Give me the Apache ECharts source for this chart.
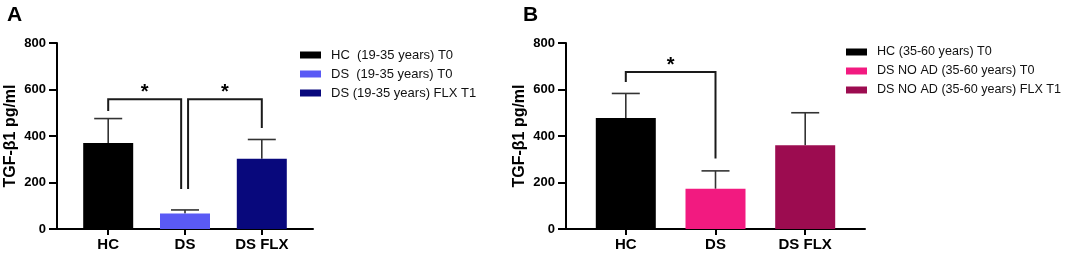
<!DOCTYPE html>
<html>
<head>
<meta charset="utf-8">
<script src="https://cdn.jsdelivr.net/npm/echarts@6/dist/echarts.min.js"></script>
<style>
  html, body { margin: 0; padding: 0; background: #fff; }
  #chart { width: 1065px; height: 254px; }
</style>
</head>
<body>
<div id="chart"></div>
<script>
// x categories (same for both panels)
const categories = ["HC", "DS", "DS FLX"];
const yTicks = [0, 200, 400, 600, 800];

// panel A
const namesA = ["HC  (19-35 years) T0", "DS  (19-35 years) T0", "DS (19-35 years) FLX T1"];
const meansA = [370, 67, 302];
const upperA = [475, 82, 385];
// [x from, x to, top, left end, right end]
const bracketsA = [
  [0, 0.95, 558, 507, 172],
  [1.04, 2, 558, 172, 434]
];

// panel B
const namesB = ["HC (35-60 years) T0", "DS NO AD (35-60 years) T0", "DS NO AD (35-60 years) FLX T1"];
const meansB = [477, 173, 360];
const upperB = [583, 250, 500];
const bracketsB = [
  [0, 1, 675, 632, 303]
];

const colorsA = ["#000000", "#5a5af5", "#08087c"];
const colorsB = ["#000000", "#f21a80", "#9c0c50"];
const FONT = "Arial, 'Liberation Sans', sans-serif";

function xAxis(idx) {
  return {
    type: "value",
    gridIndex: idx,
    min: -2 / 3,
    max: 8 / 3,
    splitLine: { show: false },
    axisLine: { show: true, lineStyle: { color: "#000", width: 2 } },
    axisTick: { show: true, customValues: [0, 1, 2], length: 6, lineStyle: { color: "#000", width: 2 } },
    axisLabel: {
      customValues: [0, 1, 2],
      formatter: v => categories[Math.round(v)],
      color: "#000", fontWeight: "bold", fontSize: 15, fontFamily: FONT, margin: 8
    }
  };
}

function yAxis(idx) {
  return {
    type: "value",
    gridIndex: idx,
    min: yTicks[0],
    max: yTicks[yTicks.length - 1],
    interval: 200,
    name: "TGF-β1 pg/ml",
    nameLocation: "middle",
    nameGap: 38,
    nameTextStyle: { color: "#000", fontWeight: "bold", fontSize: 16, fontFamily: FONT },
    splitLine: { show: false },
    axisLine: { show: true, onZero: false, lineStyle: { color: "#000", width: 2 } },
    axisTick: { show: true, length: 8, lineStyle: { color: "#000", width: 2 } },
    axisLabel: { color: "#000", fontWeight: "bold", fontSize: 13, fontFamily: FONT, margin: 11 }
  };
}

function barSeries(idx, names, means, colors, width) {
  return names.map((n, i) => ({
    name: n,
    type: "bar",
    xAxisIndex: idx,
    yAxisIndex: idx,
    barWidth: width,
    barGap: "-100%",
    itemStyle: { color: colors[i] },
    data: [[i, means[i]]]
  }));
}

function errorSeries(idx, means, upper) {
  return {
    type: "custom",
    xAxisIndex: idx,
    yAxisIndex: idx,
    z: 1,
    data: means.map((m, i) => [i, m, upper[i]]),
    renderItem: function (params, api) {
      const p0 = api.coord([api.value(0), api.value(1)]);
      const p1 = api.coord([api.value(0), api.value(2)]);
      const style = { stroke: "#333", lineWidth: 1.6 };
      return {
        type: "group",
        children: [
          { type: "line", shape: { x1: p0[0], y1: p0[1], x2: p1[0], y2: p1[1] }, style: style },
          { type: "line", shape: { x1: p1[0] - 14, y1: p1[1], x2: p1[0] + 14, y2: p1[1] }, style: style }
        ]
      };
    }
  };
}

function bracketSeries(idx, brackets) {
  return {
    type: "custom",
    xAxisIndex: idx,
    yAxisIndex: idx,
    z: 5,
    data: brackets,
    renderItem: function (params, api) {
      const a = api.coord([api.value(0), api.value(3)]);
      const b = api.coord([api.value(0), api.value(2)]);
      const c = api.coord([api.value(1), api.value(2)]);
      const d = api.coord([api.value(1), api.value(4)]);
      return {
        type: "group",
        children: [
          {
            type: "polyline",
            shape: { points: [a, b, c, d] },
            style: { stroke: "#1a1a1a", lineWidth: 2, fill: null }
          },
          {
            type: "text",
            x: (b[0] + c[0]) / 2,
            y: b[1] + 3,
            style: {
              text: "*", fill: "#000", font: "bold 20px " + FONT,
              align: "center", verticalAlign: "bottom"
            }
          }
        ]
      };
    }
  };
}

function legend(names, left, top, size) {
  return {
    data: names,
    orient: "vertical",
    left: left,
    top: top,
    padding: 0,
    icon: "rect",
    itemWidth: 21,
    itemHeight: 7,
    itemGap: 5,
    textStyle: { color: "#111", fontSize: size, fontFamily: FONT, padding: [0, 0, 0, 5], lineHeight: 14 }
  };
}

const chart = echarts.init(document.getElementById("chart"));
chart.setOption({
  animation: false,
  backgroundColor: "#fff",
  title: [
    { text: "A", left: 2, top: 0, textStyle: { fontSize: 21, fontWeight: "bold", color: "#000", fontFamily: FONT } },
    { text: "B", left: 518, top: 0, textStyle: { fontSize: 21, fontWeight: "bold", color: "#000", fontFamily: FONT } }
  ],
  legend: [legend(namesA, 300, 48, 13), legend(namesB, 846, 45, 12.6)],
  grid: [
    { left: 57, top: 43, width: 256, height: 186 },
    { left: 566, top: 43, width: 299, height: 186 }
  ],
  xAxis: [xAxis(0), xAxis(1)],
  yAxis: [yAxis(0), yAxis(1)],
  series: [
    ...barSeries(0, namesA, meansA, colorsA, 50),
    errorSeries(0, meansA, upperA),
    bracketSeries(0, bracketsA),
    ...barSeries(1, namesB, meansB, colorsB, 60),
    errorSeries(1, meansB, upperB),
    bracketSeries(1, bracketsB)
  ]
});
</script>
</body>
</html>
